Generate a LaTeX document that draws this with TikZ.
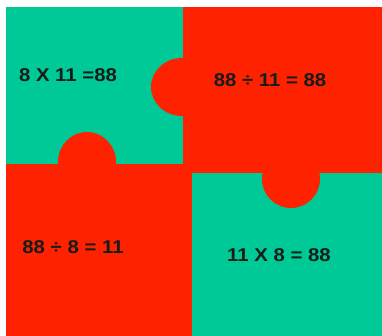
\documentclass[tikz,border=0pt]{standalone}
\usepackage{fontspec}
\setmainfont{Liberation Sans}
\newfontfamily\sumfont{Liberation Sans}[FakeStretch=1.1]
\definecolor{tilegreen}{RGB}{0,201,152}
\definecolor{tilered}{RGB}{255,34,0}
\definecolor{inkdark}{RGB}{22,28,24}
\begin{document}
\begin{tikzpicture}[
  x=1pt, y=-1pt,
  every node/.style={inner sep=0pt},
  gpiece/.style={fill=tilegreen},
  rpiece/.style={fill=tilered},
  sum/.style={font=\sumfont\bfseries\fontsize{18.5}{18.5}\selectfont, text=inkdark}]

  % page and margins
  \fill[white] (0,0) rectangle (382,336);
  \useasboundingbox (0,0) rectangle (382,336);

  % pieces
  \fill[gpiece] (6,7)     rectangle (183,164);
  \fill[rpiece] (183,7)   rectangle (382,173);
  \fill[rpiece] (6,164)   rectangle (192,336);
  \fill[gpiece] (192,173) rectangle (382,336);

  % tabs
  \fill[rpiece] (182,87)  ellipse (31 and 29);
  \fill[rpiece] (87,162)  ellipse (29 and 30);
  \fill[rpiece] (291,179) ellipse (29 and 29);

  % labels printed inside the picture
  \node[sum] (tlsum) at (68,75)  {8 X 11 =88};
  \node[sum] (trsum) at (270,80) {88 ÷ 11 = 88};
  \node[sum] (blsum) at (73,247) {88 ÷ 8 = 11};
  \node[sum] (brsum) at (279,255) {11 X 8 = 88};
\end{tikzpicture}
\end{document}
